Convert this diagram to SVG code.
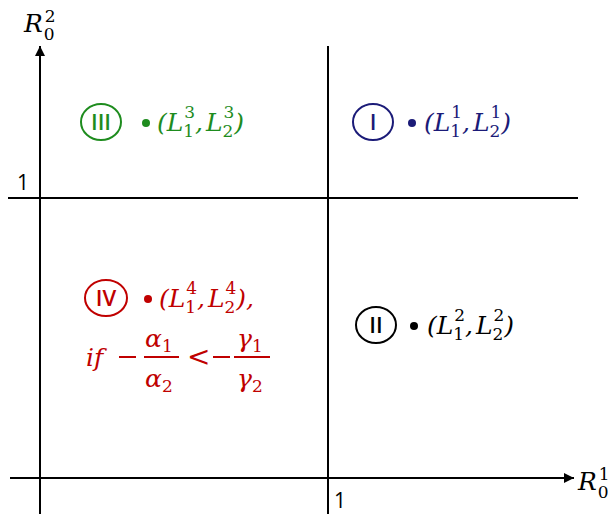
<svg xmlns="http://www.w3.org/2000/svg" width="608" height="514" viewBox="0 0 608 514">
<style>
.ax{stroke:#000;stroke-width:2;fill:none}
.m{font-family:"DejaVu Serif","Liberation Serif",serif;font-style:italic;font-size:25px}
.sub{font-size:17px;font-style:normal}
.rn{font-family:"Open Sans","Liberation Sans",sans-serif;font-size:22px;font-weight:600;text-anchor:middle}
.num{font-family:"Open Sans","Liberation Sans",sans-serif;font-size:21px}
.g{fill:#1e8c1e}.gs{stroke:#1e8c1e}
.b{fill:#1b1b78}.bs{stroke:#1b1b78}
.r{fill:#c00000}.rs{stroke:#c00000}
.k{fill:#000}.ks{stroke:#000}
.c{fill:none;stroke-width:2}
</style>
<defs>
<marker id="ah" viewBox="0 0 10 10" refX="10" refY="5" markerWidth="10" markerHeight="11" markerUnits="userSpaceOnUse" orient="auto">
<path d="M0,0 L10,5 L0,10 z" fill="#000"/>
</marker>
</defs>
<g id="connectors">
<line class="ax" x1="40" y1="514" x2="40" y2="46" marker-end="url(#ah)"/>
<line class="ax" x1="10" y1="478" x2="574" y2="478" marker-end="url(#ah)"/>
<line class="ax" x1="328" y1="46" x2="328" y2="514"/>
<line class="ax" x1="8" y1="198" x2="578" y2="198"/>
</g>
<g id="labels">
<text class="m" x="24" y="32">R<tspan class="sub" dx="1" dy="8">0</tspan><tspan class="sub" dx="-10" dy="-18">2</tspan></text>
<text class="m" x="578" y="490">R<tspan class="sub" dx="1" dy="8">0</tspan><tspan class="sub" dx="-10" dy="-18">1</tspan></text>
<text class="num" x="17" y="190">1</text>
<text class="num" x="334" y="508">1</text>
</g>
<g id="region-III">
<ellipse class="c gs" cx="101" cy="122" rx="20" ry="18"/>
<text class="rn g" x="101" y="130">III</text>
<circle class="g" cx="146" cy="123" r="4"/>
<text class="m g" x="157" y="131">(L<tspan class="sub" dy="6">1</tspan><tspan class="sub" dx="-10" dy="-19">3</tspan><tspan dy="13">,</tspan><tspan dx="3">L</tspan><tspan class="sub" dy="6">2</tspan><tspan class="sub" dx="-10" dy="-19">3</tspan><tspan dy="13">)</tspan></text>
</g>
<g id="region-I">
<ellipse class="c bs" cx="373" cy="122" rx="20" ry="18"/>
<text class="rn b" x="373" y="130">I</text>
<circle class="b" cx="412" cy="123" r="4"/>
<text class="m b" x="424" y="131">(L<tspan class="sub" dy="6">1</tspan><tspan class="sub" dx="-10" dy="-19">1</tspan><tspan dy="13">,</tspan><tspan dx="3">L</tspan><tspan class="sub" dy="6">2</tspan><tspan class="sub" dx="-10" dy="-19">1</tspan><tspan dy="13">)</tspan></text>
</g>
<g id="region-II">
<ellipse class="c ks" cx="376" cy="325" rx="20" ry="18"/>
<text class="rn k" x="376" y="333">II</text>
<circle class="k" cx="414" cy="326" r="4"/>
<text class="m k" x="427" y="334">(L<tspan class="sub" dy="6">1</tspan><tspan class="sub" dx="-10" dy="-19">2</tspan><tspan dy="13">,</tspan><tspan dx="3">L</tspan><tspan class="sub" dy="6">2</tspan><tspan class="sub" dx="-10" dy="-19">2</tspan><tspan dy="13">)</tspan></text>
</g>
<g id="region-IV">
<ellipse class="c rs" cx="106" cy="298" rx="21" ry="18"/>
<text class="rn r" x="106" y="306">IV</text>
<circle class="r" cx="148" cy="299" r="4"/>
<text class="m r" x="159" y="307">(L<tspan class="sub" dy="6">1</tspan><tspan class="sub" dx="-10" dy="-19">4</tspan><tspan dy="13">,</tspan><tspan dx="3">L</tspan><tspan class="sub" dy="6">2</tspan><tspan class="sub" dx="-10" dy="-19">4</tspan><tspan dy="13">),</tspan></text>
<text class="m r" x="86" y="366">if</text>
<line class="rs" x1="119" y1="357" x2="136" y2="357" stroke-width="2"/>
<text class="m r" x="145" y="347">α<tspan class="sub" dy="5">1</tspan></text>
<line class="rs" x1="144" y1="357" x2="179" y2="357" stroke-width="2"/>
<text class="m r" x="145" y="387">α<tspan class="sub" dy="5">2</tspan></text>
<text class="m r" x="187" y="366" style="font-style:normal;font-size:28px">&lt;</text>
<line class="rs" x1="213" y1="357" x2="230" y2="357" stroke-width="2"/>
<text class="m r" x="237" y="347">γ<tspan class="sub" dy="5">1</tspan></text>
<line class="rs" x1="234" y1="357" x2="270" y2="357" stroke-width="2"/>
<text class="m r" x="237" y="387">γ<tspan class="sub" dy="5">2</tspan></text>
</g>
</svg>
